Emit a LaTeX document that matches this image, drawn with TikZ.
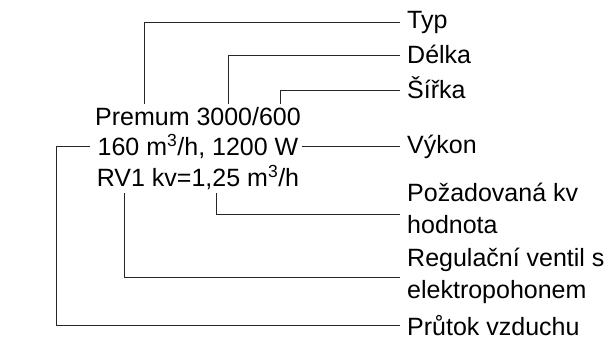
\documentclass[tikz,border=0pt]{standalone}
\usepackage{fontspec}
\setmainfont{Liberation Sans}
\begin{document}
\begin{tikzpicture}[x=1pt,y=-1pt,
  txt/.style={inner sep=0pt,font=\fontsize{25}{30}\selectfont},
  lbl/.style={txt,anchor=base west},
  mid/.style={txt,anchor=base},
  conn/.style={draw=black!85,line width=0.9pt}]
\useasboundingbox (0,0) rectangle (616,351);
% central text
\node[mid] (t1) at (198,125) {Premum 3000/600};
\node[mid] (t2) at (198,155.5) {160 m\textsuperscript{3}/h, 1200 W};
\node[mid] (t3) at (198,186.5) {RV1 kv=1,25 m\textsuperscript{3}/h};
% labels
\node[lbl] (typ) at (407,28.3) {Typ};
\node[lbl] (delka) at (407,63.3) {Délka};
\node[lbl] (sirka) at (407,98.3) {Šířka};
\node[lbl] (vykon) at (407,153.3) {Výkon};
\node[lbl] (poz1) at (407,201.7) {Požadovaná kv};
\node[lbl] (poz2) at (407,233.3) {hodnota};
\node[lbl] (reg1) at (407,266.7) {Regulační ventil s};
\node[lbl] (reg2) at (407,298.3) {elektropohonem};
\node[lbl] (prut) at (407,335.7) {Průtok vzduchu};
% connector points
\coordinate (typS) at (144.3,104);
\coordinate (typE) at (400,22);
\coordinate (delS) at (228.7,104);
\coordinate (delE) at (400,55);
\coordinate (sirS) at (280.7,104);
\coordinate (sirE) at (400,90);
\coordinate (vykS) at (302,146);
\coordinate (vykE) at (400,146);
\coordinate (pozS) at (216.7,193);
\coordinate (pozE) at (400,214);
\coordinate (regS) at (124,193);
\coordinate (regE) at (400,277);
\coordinate (pruS) at (90,146);
\coordinate (pruC) at (56,146);
\coordinate (pruE) at (400,325);
% connectors
\draw[conn] (typS) |- (typE);
\draw[conn] (delS) |- (delE);
\draw[conn] (sirS) |- (sirE);
\draw[conn] (vykS) -- (vykE);
\draw[conn] (pozS) |- (pozE);
\draw[conn] (regS) |- (regE);
\draw[conn] (pruS) -- (pruC) |- (pruE);
\end{tikzpicture}
\end{document}
